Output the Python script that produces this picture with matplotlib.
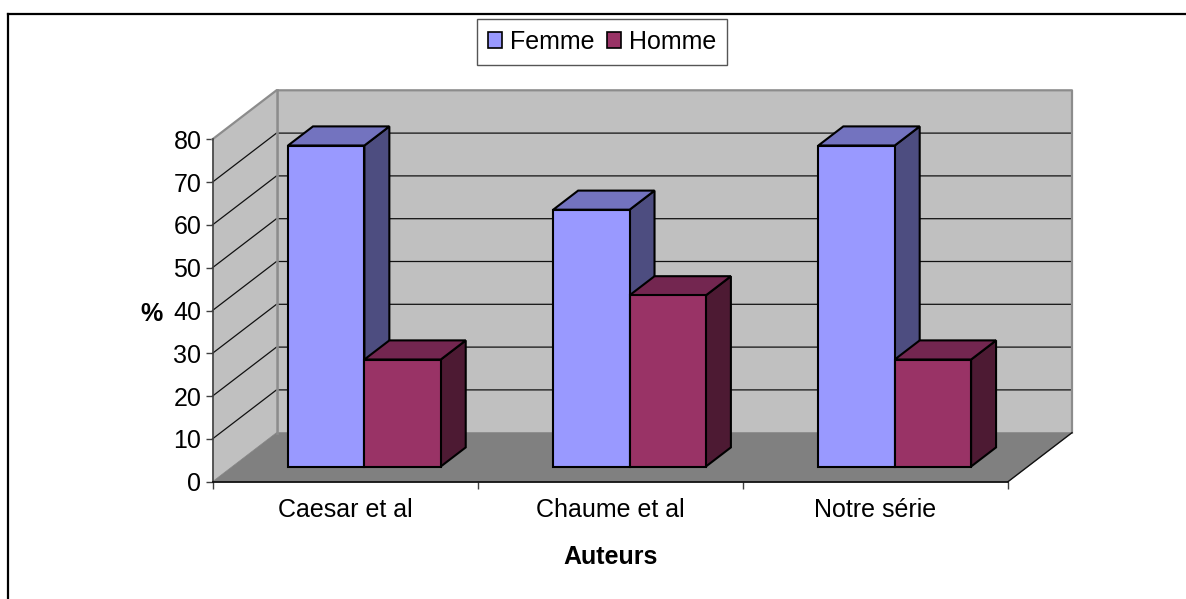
import matplotlib
matplotlib.use("Agg")
import matplotlib.pyplot as plt
from matplotlib.patches import Polygon, Patch

plt.rcParams["font.family"] = ["Liberation Sans", "DejaVu Sans"]

categories = ["Caesar et al", "Chaume et al", "Notre série"]
femme = [75, 60, 75]
homme = [25, 40, 25]
y_ticks = [0, 10, 20, 30, 40, 50, 60, 70, 80]

W, H = 1186, 599
DEPTH_X, DEPTH_Y = 64, 49

fig = plt.figure(figsize=(W / 100, H / 100), dpi=100)
ax = fig.add_axes([212.5 / W, 1 - 481.7 / H, (1008 - 212.5) / W, (481.7 - 139.3) / H])
ax.set_xlim(0, 3)
ax.set_ylim(0, 80)
ax.patch.set_visible(False)


def at_depth(x, y, d):
    # data position shifted in pixels towards the back wall
    px, py = ax.transData.transform((x, y))
    return px + d * DEPTH_X, py + d * DEPTH_Y


def face(points, color, ec, lw, z):
    pts = [at_depth(*p) for p in points]
    ax.add_patch(Polygon(pts, closed=True, facecolor=color, edgecolor=ec, linewidth=lw,
                         transform=None, zorder=z, clip_on=False, joinstyle="miter"))


def line(points, color, lw, z):
    pts = [at_depth(*p) for p in points]
    ax.plot([p[0] for p in pts], [p[1] for p in pts], color=color, lw=lw,
            transform=None, zorder=z, clip_on=False)


# walls and floor
face([(0, 0, 1), (3, 0, 1), (3, 80, 1), (0, 80, 1)], "#c0c0c0", "none", 0, 1)
face([(0, 0, 0), (0, 0, 1), (0, 80, 1), (0, 80, 0)], "#c0c0c0", "none", 0, 1)
face([(0, 0, 0), (3, 0, 0), (3, 0, 1), (0, 0, 1)], "#808080", "#808080", 0.5, 2)

# grid lines, side wall then back wall
for v in y_ticks[1:-1]:
    line([(0, v, 0), (0, v, 1), (3, v, 1)], "#111111", 0.9, 3)

# wall edges
line([(0, 80, 0), (0, 80, 1), (3, 80, 1), (3, 0, 1)], "#8c8c8c", 1.6, 4)
line([(0, 0, 1), (0, 80, 1)], "#8c8c8c", 1.9, 4)
line([(3, 0, 0), (3, 0, 1)], "#111111", 1.0, 4)

# bars
BAR_W = 0.288
BAR_START = 0.21
D0, D1 = 0.31, 0.70
series = [
    (femme, 0, "#9999ff", "#7373bf", "#4d4d80"),
    (homme, 1, "#993366", "#732650", "#4d1a33"),
]
z = 5
for i in range(len(categories)):
    for values, k, front, top, side in series:
        x0 = i + BAR_START + k * BAR_W
        x1 = x0 + BAR_W
        v = values[i]
        face([(x1, 0, D0), (x1, 0, D1), (x1, v, D1), (x1, v, D0)], side, "black", 1.5, z)
        face([(x0, v, D0), (x1, v, D0), (x1, v, D1), (x0, v, D1)], top, "black", 1.5, z)
        face([(x0, 0, D0), (x1, 0, D0), (x1, v, D0), (x0, v, D0)], front, "black", 1.5, z)
        z += 1

# axes
for s in ["top", "right"]:
    ax.spines[s].set_visible(False)
ax.spines["left"].set_color("#404040")
ax.spines["left"].set_linewidth(1.2)
ax.spines["bottom"].set_color("#111111")
ax.spines["bottom"].set_linewidth(1.3)
ax.spines["left"].set_zorder(4)
ax.spines["bottom"].set_zorder(4)
ax.set_yticks(y_ticks)
ax.set_xticks([0, 1, 2, 3])
ax.set_xticklabels([])
ax.set_xticks([0.5, 1.5, 2.5], minor=True)
ax.set_xticklabels(categories, minor=True)
ax.tick_params(axis="x", which="major", length=5, width=1.0, color="#404040")
ax.tick_params(axis="x", which="minor", length=0, pad=12, labelsize=18, labelcolor="black")
ax.tick_params(axis="y", length=5, width=1.0, color="#404040", pad=3, labelsize=18)
ax.set_xlabel("Auteurs", fontsize=18, fontweight="bold", labelpad=16)
ax.set_ylabel("%", fontsize=18, fontweight="bold", rotation=0, labelpad=16, va="center", y=0.49)

handles = [Patch(facecolor="#9999ff", edgecolor="black", linewidth=1.2, label="Femme"),
           Patch(facecolor="#993366", edgecolor="black", linewidth=1.2, label="Homme")]
leg = fig.legend(handles=handles, loc="center", bbox_to_anchor=(602 / W, 1 - 42 / H), ncol=2,
                 fontsize=18, frameon=True, fancybox=False, edgecolor="#555555",
                 handlelength=0.58, handleheight=0.58, handletextpad=0.3, columnspacing=0.5,
                 borderpad=0.45, borderaxespad=0)
leg.get_frame().set_linewidth(1.0)
leg.get_frame().set_alpha(1)

# chart border
fig.add_artist(plt.Line2D([8 / W, 8 / W], [0, 1 - 14 / H], color="black", lw=1.6))
fig.add_artist(plt.Line2D([8 / W, 1], [1 - 14 / H, 1 - 14 / H], color="black", lw=1.6))

fig.savefig("out.png", dpi=100)
